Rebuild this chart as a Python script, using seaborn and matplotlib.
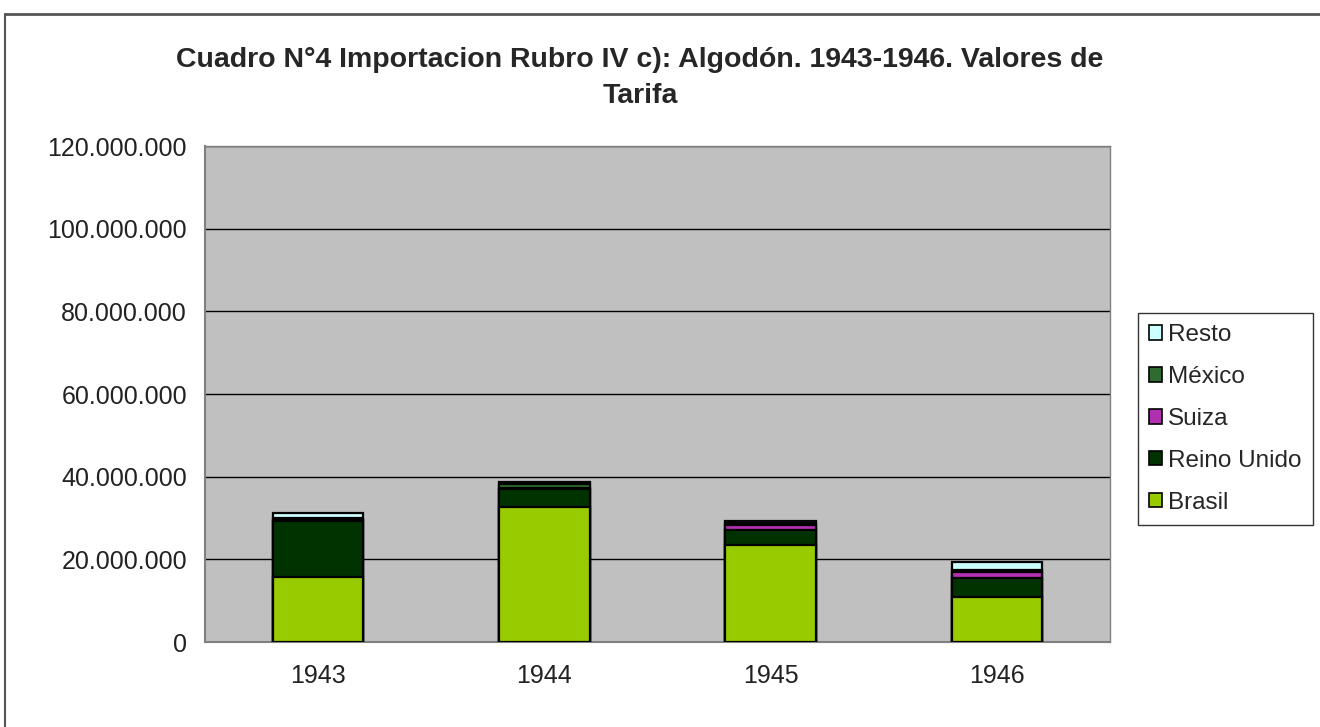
import matplotlib
matplotlib.use("Agg")
import matplotlib.pyplot as plt
import matplotlib.ticker as mticker
from matplotlib.patches import Patch
from matplotlib.lines import Line2D
import numpy as np
import pandas as pd
import seaborn as sns

# Data (values in pesos)
years = ["1943", "1944", "1945", "1946"]
brasil = [15.7e6, 32.7e6, 23.5e6, 10.9e6]
reino_unido = [13.6e6, 4.3e6, 3.6e6, 4.6e6]
suiza = [0.3e6, 0.3e6, 1.2e6, 1.4e6]
mexico = [0.5e6, 1.0e6, 0.6e6, 0.5e6]
resto = [1.1e6, 0.4e6, 0.3e6, 2.0e6]

series = ["Brasil", "Reino Unido", "Suiza", "México", "Resto"]
colors = {"Brasil": "#99cc00", "Reino Unido": "#003300", "Suiza": "#b030b0",
          "México": "#2f6b2f", "Resto": "#ccffff"}

df = pd.DataFrame({"year": years, "Brasil": brasil, "Reino Unido": reino_unido,
                   "Suiza": suiza, "México": mexico, "Resto": resto})
cum = df[series].cumsum(axis=1)

sns.set_style("white")
plt.rcParams["font.family"] = ["Liberation Sans", "DejaVu Sans"]

fig = plt.figure(figsize=(13.2, 7.27), dpi=100)
ax = fig.add_axes([205 / 1320, 1 - 642 / 727, 905 / 1320, 496 / 727])
ax.set_facecolor("#c0c0c0")

# stacked bars: draw cumulative totals from the top layer down
for s in reversed(series):
    sns.barplot(x=df["year"], y=cum[s], color=colors[s], edgecolor="black",
                linewidth=1.6, width=0.4, saturation=1, ax=ax, zorder=3)

ax.set_ylim(0, 120e6)
ax.set_xlim(-0.5, 3.5)
ax.yaxis.set_major_locator(mticker.MultipleLocator(20e6))
ax.yaxis.set_major_formatter(mticker.FuncFormatter(lambda v, p: f"{int(v):,}".replace(",", ".")))
ax.grid(axis="y", color="black", linewidth=1, zorder=1)
ax.set_axisbelow(True)
for sp in ["top", "right"]:
    ax.spines[sp].set_color("#808080")
    ax.spines[sp].set_linewidth(1)
for sp in ["left", "bottom"]:
    ax.spines[sp].set_color("#808080")
    ax.spines[sp].set_linewidth(1.5)
ax.set_xlabel("")
ax.set_ylabel("")
ax.tick_params(axis="y", length=5, width=1, color="#808080", labelsize=18, pad=8)
ax.tick_params(axis="x", which="major", length=0, labelsize=18, pad=16)
ax.set_xticks(np.arange(-0.5, 4.0, 1.0), minor=True)
ax.tick_params(axis="x", which="minor", length=5, width=1, color="#808080")
for lab in ax.get_xticklabels() + ax.get_yticklabels():
    lab.set_color("#222222")

fig.text(640 / 1320, 1 - 60 / 727, "Cuadro N°4 Importacion Rubro IV c): Algodón. 1943-1946. Valores de",
         ha="center", va="center", fontsize=20.5, fontweight="bold")
fig.text(640 / 1320, 1 - 96 / 727, "Tarifa", ha="center", va="center", fontsize=20.5, fontweight="bold")

handles = [Patch(facecolor=colors[s], edgecolor="black", linewidth=1.2, label=s)
           for s in reversed(series)]
leg = fig.legend(handles=handles, loc="upper left",
                 bbox_to_anchor=(1138 / 1320, 1 - 313 / 727), fontsize=17.5,
                 frameon=True, fancybox=False, handlelength=0.55, handleheight=0.55,
                 handletextpad=0.25, labelspacing=0.82, borderpad=0.45, borderaxespad=0)
leg.get_frame().set_edgecolor("black")
leg.get_frame().set_linewidth(1)

# outer frame of the chart area
fig.add_artist(Line2D([5 / 1320, 1], [1 - 14 / 727, 1 - 14 / 727], color="#555555", linewidth=2))
fig.add_artist(Line2D([5 / 1320, 5 / 1320], [0, 1 - 14 / 727], color="#555555", linewidth=1.5))

fig.savefig("out.png", dpi=100)
